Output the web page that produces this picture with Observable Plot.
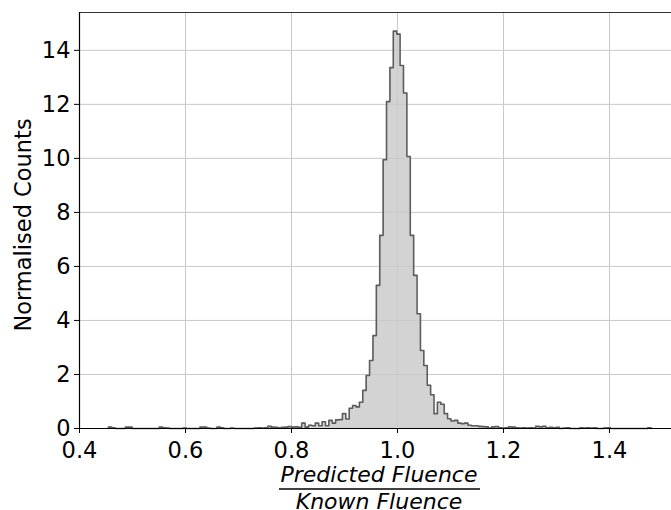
<!DOCTYPE html>
<html>
<head>
<meta charset="utf-8">
<script src="https://cdn.jsdelivr.net/npm/d3@7"></script>
<script src="https://cdn.jsdelivr.net/npm/@observablehq/plot@0.6"></script>
<style>
  html, body { margin: 0; padding: 0; background: white; }
  #chart svg { display: block; }
</style>
</head>
<body>
<div id="chart"></div>
<script>
// Histogram bin definition (uniform bins)
const binStart = 0.4545;
const binWidth = 0.0064;
// Normalised counts per bin
const counts = [
  0.05, 0.03, 0, 0, 0, 0.05, 0.05, 0, 0, 0,
  0, 0, 0, 0, 0, 0.05, 0.03, 0.02, 0, 0,
  0, 0, 0.02, 0, 0, 0, 0, 0.05, 0.05, 0.02,
  0, 0, 0.05, 0.03, 0, 0, 0.02, 0, 0, 0,
  0, 0, 0, 0.02, 0.03, 0.02, 0.03, 0.08, 0.05, 0.04,
  0.03, 0.04, 0.05, 0.07, 0.05, 0.06, 0.04, 0.2, 0.05, 0.12,
  0.1, 0.2, 0.1, 0.25, 0.1, 0.3, 0.2, 0.32, 0.33, 0.55,
  0.35, 0.75, 0.85, 0.8, 0.97, 1.41, 1.96, 2.52, 3.44, 5.3,
  7.15, 9.95, 12.1, 13.36, 14.71, 14.6, 13.44, 12.42, 10.07, 7.15,
  5.67, 4.25, 2.89, 2.33, 1.6, 1.25, 0.55, 0.97, 0.9, 0.55,
  0.36, 0.28, 0.3, 0.2, 0.18, 0.2, 0.12, 0.1, 0.1, 0.08,
  0.07, 0.06, 0.02, 0.06, 0.07, 0.03, 0.02, 0.03, 0.06, 0.05,
  0.03, 0.02, 0.03, 0.02, 0.03, 0.02, 0.08, 0.06, 0.08, 0.03,
  0.04, 0.03, 0.04, 0, 0.02, 0.03, 0, 0, 0, 0.03,
  0.02, 0.03, 0.02, 0.03, 0, 0, 0.02, 0.03, 0, 0,
  0, 0, 0, 0, 0, 0, 0, 0, 0, 0.03
];
const xTicks = [0.4, 0.6, 0.8, 1.0, 1.2, 1.4];
const yTicks = [0, 2, 4, 6, 8, 10, 12, 14];
const xDomain = [0.4, 1.517];
const yDomain = [0, 15.4];

// Outline points for a step histogram
const binEnd = binStart + counts.length * binWidth;
const pts = [{x: binStart, y: 0}]
  .concat(counts.map((c, i) => ({x: binStart + i * binWidth, y: c})))
  .concat([{x: binEnd, y: counts[counts.length - 1]}, {x: binEnd, y: 0}]);

const gridColor = "#c9c9c9";
const plot = Plot.plot({
  width: 671,
  height: 510,
  marginLeft: 79,
  marginRight: 0,
  marginTop: 12,
  marginBottom: 82,
  style: {fontFamily: "DejaVu Sans", fontSize: "22.5px", background: "white", color: "black"},
  x: {domain: xDomain},
  y: {domain: yDomain},
  marks: [
    Plot.areaY(pts, {x: "x", y: "y", curve: "step-after", fill: "#d3d3d3"}),
    Plot.gridX(xTicks, {stroke: gridColor, strokeOpacity: 1, strokeWidth: 1}),
    Plot.gridY(yTicks, {stroke: gridColor, strokeOpacity: 1, strokeWidth: 1}),
    Plot.lineY(pts, {x: "x", y: "y", curve: "step-after", stroke: "#5c5c5c", strokeWidth: 1.6}),
    Plot.ruleY([yDomain[0]], {stroke: "black", strokeWidth: 1.2}),
    Plot.ruleY([yDomain[1]], {stroke: "#333", strokeWidth: 1}),
    Plot.ruleX([xDomain[0]], {stroke: "black", strokeWidth: 1.2}),
    Plot.axisX(xTicks, {tickSize: 5, tickPadding: 9, tickFormat: d3.format(".1f"), label: null, fontSize: 22.5}),
    Plot.axisY(yTicks, {tickSize: 5, tickPadding: 4, label: null, fontSize: 22.5})
  ]
});
document.getElementById("chart").appendChild(plot);

// Axis titles
const svg = d3.select(plot);
svg.append("text")
  .attr("transform", "translate(31,225) rotate(-90)")
  .attr("text-anchor", "middle")
  .attr("font-family", "DejaVu Sans")
  .attr("font-size", 22.5)
  .attr("fill", "black")
  .text("Normalised Counts");
const fx = 379;
svg.append("text")
  .attr("x", fx).attr("y", 482)
  .attr("text-anchor", "middle")
  .attr("font-family", "DejaVu Sans")
  .attr("font-style", "italic")
  .attr("font-size", 22)
  .attr("fill", "black")
  .text("Predicted Fluence");
svg.append("line")
  .attr("x1", 279).attr("x2", 480).attr("y1", 489).attr("y2", 489)
  .attr("stroke", "black").attr("stroke-width", 1.5);
svg.append("text")
  .attr("x", fx).attr("y", 509)
  .attr("text-anchor", "middle")
  .attr("font-family", "DejaVu Sans")
  .attr("font-style", "italic")
  .attr("font-size", 22)
  .attr("fill", "black")
  .text("Known Fluence");
</script>
</body>
</html>
